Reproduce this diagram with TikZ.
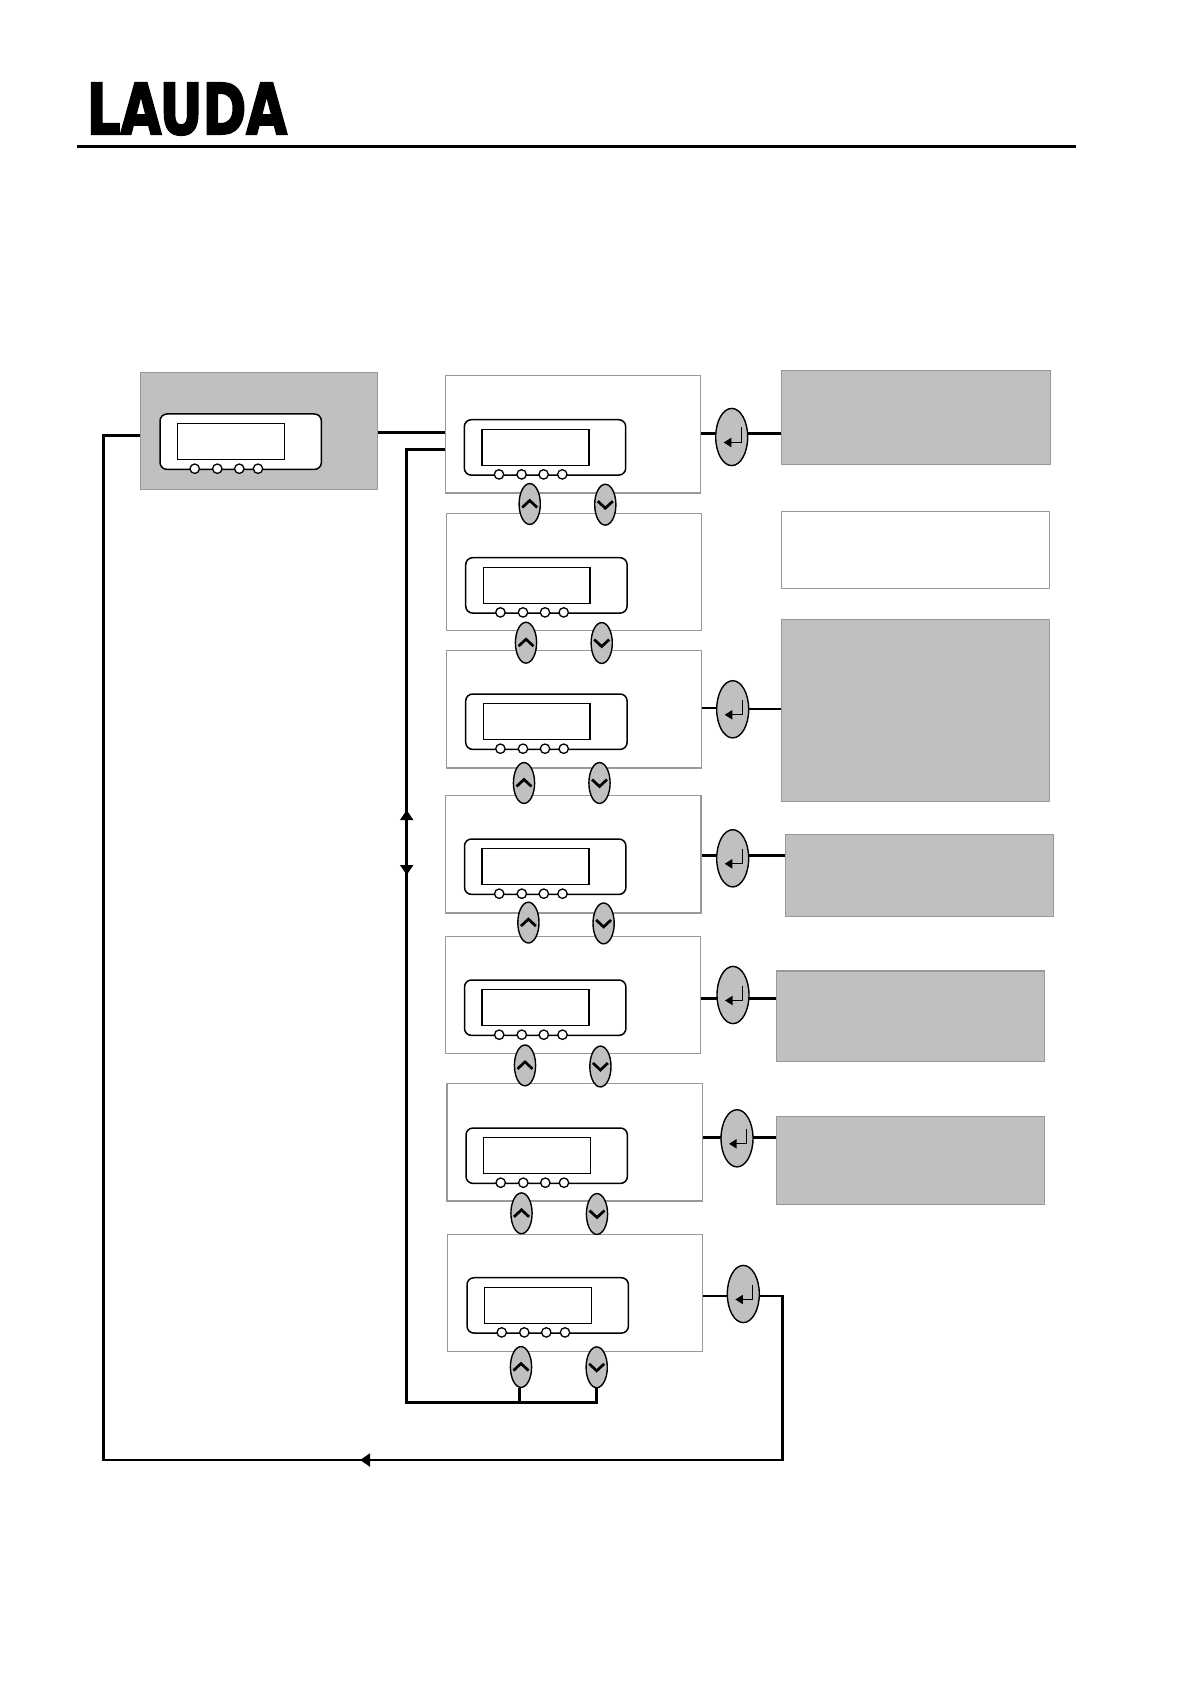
\documentclass[tikz,border=0pt]{standalone}
\usepackage{graphicx}
\usepackage{fontspec}
\newfontfamily\logofont[FakeBold=3.2]{DejaVu Sans Bold}
\usetikzlibrary{shapes.geometric,arrows.meta,backgrounds}
\definecolor{panelgray}{HTML}{C0C0C0}
\definecolor{edgegray}{HTML}{999999}
\tikzset{
  graybox/.style={rectangle,draw=edgegray,line width=.7pt,fill=panelgray,inner sep=0pt,outer sep=0pt},
  whitebox/.style={rectangle,draw=edgegray,line width=.7pt,fill=white,inner sep=0pt,outer sep=0pt},
  lcdframe/.style={rectangle,rounded corners=3.5pt,draw=black,line width=.75pt,fill=white,inner sep=0pt,outer sep=0pt,minimum width=80.7pt,minimum height=27.7pt,anchor=north west},
  lcdscreen/.style={rectangle,draw=black,line width=.75pt,fill=white,inner sep=0pt,outer sep=0pt,minimum width=53.4pt,minimum height=18pt,anchor=north west},
  lcdled/.style={circle,draw=black,line width=.65pt,fill=white,inner sep=0pt,outer sep=0pt,minimum size=4.7pt},
  navbtn/.style={ellipse,draw=black,line width=.7pt,fill=panelgray,inner sep=0pt,outer sep=0pt,minimum width=10.6pt,minimum height=20.4pt},
  enterbtn/.style={ellipse,draw=black,line width=.7pt,fill=panelgray,inner sep=0pt,outer sep=0pt,minimum width=16pt,minimum height=28.6pt},
  chev/.style={draw=black,line width=1.35pt},
  conn/.style={draw=black,line width=1.4pt,line cap=butt,line join=miter},
  connarrow/.style={conn,-{Triangle[length=5pt,width=6.4pt]}},
  entertip/.style={draw=black,line width=.65pt,-{Triangle[length=3.8pt,width=4.6pt]}},
}
\newcommand{\mypanel}[6]{\node[#2,anchor=north west,minimum width=(#5-#3)*0.5pt,minimum height=(#6-#4)*0.5pt] (#1) at (#3,#4) {};}
\newcommand{\mylcd}[3]{%
  \node[lcdframe] (#1f) at (#2,#3) {};
  \node[lcdscreen] (#1s) at ([shift={(17.7,9.7)}]#1f.north west) {};
  \node[lcdled] (#1la) at ([shift={(34.7,54.7)}]#1f.north west) {};
  \node[lcdled] (#1lb) at ([shift={(57.3,54.7)}]#1f.north west) {};
  \node[lcdled] (#1lc) at ([shift={(79.3,54.7)}]#1f.north west) {};
  \node[lcdled] (#1ld) at ([shift={(98,54.7)}]#1f.north west) {};
}
\newcommand{\upbtn}[3]{%
  \node[navbtn] (#1) at (#2,#3) {};
  \draw[chev] ([shift={(-7.5,3.5)}]#1.center) -- ([shift={(0,-3.5)}]#1.center) -- ([shift={(7.5,3.5)}]#1.center);
}
\newcommand{\downbtn}[3]{%
  \node[navbtn] (#1) at (#2,#3) {};
  \draw[chev] ([shift={(-7.5,-3.5)}]#1.center) -- ([shift={(0,3.5)}]#1.center) -- ([shift={(7.5,-3.5)}]#1.center);
}
\newcommand{\enterb}[3]{%
  \node[enterbtn] (#1) at (#2,#3) {};
  \draw[entertip] ([shift={(9.5,-9.5)}]#1.center) -- ([shift={(9.5,5.5)}]#1.center) -- ([shift={(-8,5.5)}]#1.center);
}
\begin{document}
\begin{tikzpicture}[x=0.5pt,y=-0.5pt]
\useasboundingbox (0,0) rectangle (1190,1684);
% logo and rule
\node[anchor=north west,inner sep=0pt,outer sep=0pt] (logo) at (87,83) {\resizebox{100pt}{25.5pt}{\logofont LAUDA}};
\coordinate (ruleL) at (77,146.3);
\coordinate (ruleR) at (1076,146.3);
\draw[draw=black,line width=1.7pt] (ruleL) -- (ruleR);
% panels
\mypanel{b0}{graybox}{140.3}{372.3}{377.7}{489.3}
\mypanel{b1}{whitebox}{445.5}{375.5}{700.5}{493}
\mypanel{b2}{whitebox}{446.5}{513.7}{701.5}{630.7}
\mypanel{b3}{whitebox}{446.5}{650.7}{701.5}{768}
\mypanel{b4}{whitebox}{445.5}{795.7}{701}{913}
\mypanel{b5}{whitebox}{445.5}{936.5}{700.5}{1053.3}
\mypanel{b6}{whitebox}{447}{1083.5}{702.7}{1200.8}
\mypanel{b7}{whitebox}{447.7}{1234.3}{702.7}{1351.3}
% right-hand boxes
\mypanel{r1}{graybox}{781.5}{370.3}{1050.3}{464.7}
\mypanel{r2}{whitebox}{781.5}{511.7}{1049.3}{588.7}
\mypanel{r3}{graybox}{781.5}{619.5}{1049.3}{801.3}
\mypanel{r4}{graybox}{785.7}{834.5}{1053.7}{916.3}
\mypanel{r5}{graybox}{776.5}{970.8}{1044.3}{1061.3}
\mypanel{r6}{graybox}{776.5}{1116.3}{1044.3}{1204.3}
% displays
\mylcd{d0}{160}{414}
\mylcd{d1}{464.3}{419.7}
\mylcd{d2}{465.7}{557.7}
\mylcd{d3}{465.7}{694}
\mylcd{d4}{464.5}{839}
\mylcd{d5}{464.5}{980}
\mylcd{d6}{466}{1128}
\mylcd{d7}{467}{1277.7}
% nav buttons
\upbtn{u1}{529.7}{504}\downbtn{v1}{605.3}{504.7}
\upbtn{u2}{526}{642.7}\downbtn{v2}{601.7}{643}
\upbtn{u3}{524}{783}\downbtn{v3}{599.5}{783}
\upbtn{u4}{528.4}{922.6}\downbtn{v4}{603.6}{923.4}
\upbtn{u5}{525}{1065.4}\downbtn{v5}{600.4}{1066.5}
\upbtn{u6}{521.5}{1213.3}\downbtn{v6}{597}{1214}
\upbtn{u7}{521}{1367}\downbtn{v7}{596.7}{1367.3}
% enter buttons
\enterb{e1}{731.7}{437}
\enterb{e3}{732.7}{709.3}
\enterb{e4}{732.7}{858.3}
\enterb{e5}{733}{995}
\enterb{e6}{737}{1138.3}
\enterb{e7}{743.3}{1294}
% connector waypoints
\coordinate (y0) at (0,432.7);
\coordinate (y1) at (0,433.7);
\coordinate (y3l) at (0,708);
\coordinate (y3r) at (0,709);
\coordinate (y4) at (0,855.3);
\coordinate (y5) at (0,998.3);
\coordinate (y6) at (0,1137.3);
\coordinate (y7) at (0,1296);
\coordinate (yL) at (0,435.7);
\coordinate (yB) at (0,449.3);
\coordinate (loopTL) at (103.3,435.7);
\coordinate (loopBL) at (103.3,1460);
\coordinate (loopBR) at (782.3,1460);
\coordinate (loopTR) at (782.3,1296);
\coordinate (tipL) at (360,1460);
\coordinate (retTop) at (406.7,449.3);
\coordinate (retBot) at (406.7,1402.5);
\coordinate (retMid) at (406.7,842);
\coordinate (tipUp) at (406.7,810);
\coordinate (tipDown) at (406.7,875);
\coordinate (stemU) at (519.3,1402.5);
\coordinate (stemUtop) at (519.3,1388);
\coordinate (stemD) at (596.3,1402.5);
\coordinate (stemDtop) at (596.3,1388);
\begin{scope}[on background layer]
  \draw[conn] (b0.east |- y0) -- (b1.west |- y0);
  \draw[conn] (b1.east |- y1) -- (e1.center |- y1);
  \draw[conn] (e1.center |- y1) -- (r1.west |- y1);
  \draw[conn] (b3.east |- y3l) -- (e3.center |- y3l);
  \draw[conn] (e3.center |- y3r) -- (r3.west |- y3r);
  \draw[conn] (b4.east |- y4) -- (r4.west |- y4);
  \draw[conn] (b5.east |- y5) -- (r5.west |- y5);
  \draw[conn] (b6.east |- y6) -- (r6.west |- y6);
  \draw[conn] (b7.east |- y7) -- (loopTR) -- (loopBR) -- (loopBL) -- (loopTL) -- (b0.west |- yL);
  \draw[conn] (b1.west |- yB) -- (retTop) -- (retBot) -- (stemD) -- (stemDtop);
  \draw[conn] (stemU) -- (stemUtop);
\end{scope}
\draw[connarrow] (loopBR) -- (tipL);
\draw[connarrow] (retMid) -- (tipUp);
\draw[connarrow] (retMid) -- (tipDown);
\end{tikzpicture}
\end{document}
